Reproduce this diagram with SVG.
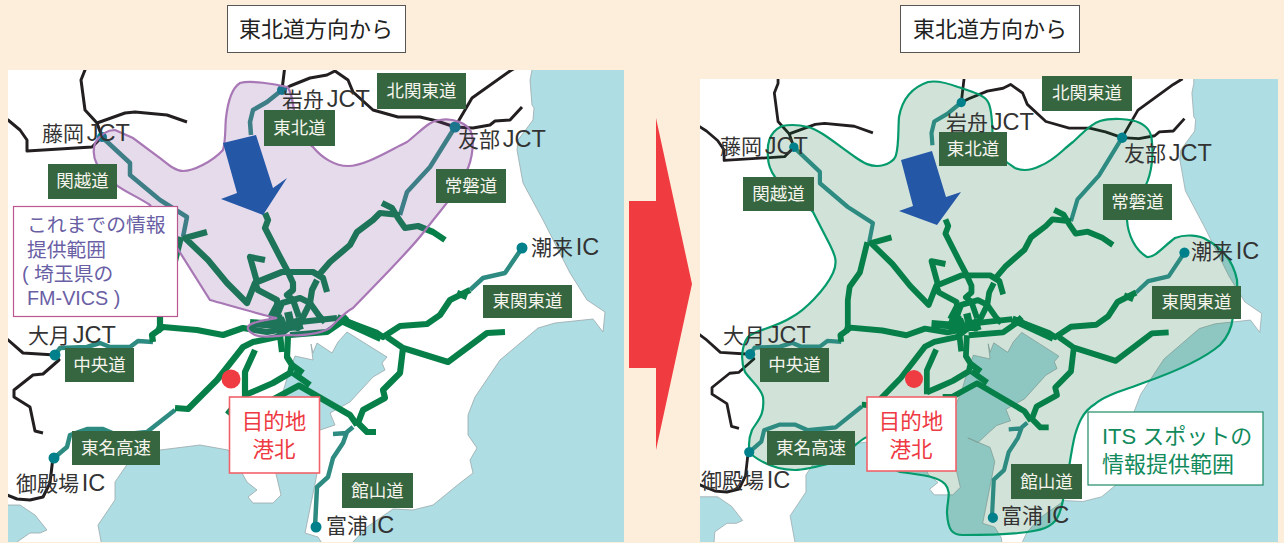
<svg xmlns="http://www.w3.org/2000/svg" width="1284" height="543" viewBox="0 0 1284 543">
<style>
text{font-family:"Liberation Sans","Noto Sans CJK JP",sans-serif}
.tag rect{fill:#366640}
.tag text{fill:#f4f4ec;font-size:17.500px;text-anchor:middle}
.pl{fill:#333;font-size:21px;word-spacing:-3px}
.pl tspan{font-size:23.500px}
.sea{fill:#aedde3;stroke:#9aa8ab;stroke-width:.8}
.blk,.grn,.tea{fill:none;stroke-linejoin:round;stroke-linecap:butt}
.blk{stroke:#231f20;stroke-width:3}
.grn{stroke:#067f48;stroke-width:6.200px}
.thick{stroke-width:8px}
.tea{stroke:#2d8b81;stroke-width:4.500px}
.dot{fill:#00808a}
.title rect{fill:#fff;stroke:#555;stroke-width:1}
.title text{font-size:22px;fill:#222;text-anchor:middle}
.goal rect{fill:#fff;stroke:#f0626a;stroke-width:1.600}
.goal text{font-size:21.500px;fill:#ee3a43;text-anchor:middle}
.pin{fill:#ef3b42}
.arrow{fill:#2557a7}
</style>
<defs>
<clipPath id="clipL"><rect x="8" y="70" width="616" height="472"/></clipPath>
<clipPath id="clipR"><rect x="700" y="79" width="578" height="463"/></clipPath>
<g id="base">
<rect x="0" y="55" width="640" height="530" fill="#fff"/>
<polygon class="sea" points="532,55 532,70 530,80 532,105 534,108 533,120 518,140 517,150 523,183 543,220 570,273 587,300 605,312 603,332 593,319 555,323 538,328 500,360 475,397 468,415 468,435 477,448 470,460 473,473 460,483 433,505 413,510 393,509 367,527 353,542 348,552 345,585 640,585 640,55"/>
<polygon class="sea" points="103,585 103,552 98,525 115,500 115,482 128,463 160,450 200,445 228,450 232,455 247,482 257,490 248,497 253,503 273,503 281,495 276,474 276,463 269,461 262,440 282,395 288,375 295,356 313,360 311,344 313,353 317,343 332,353 338,342 347,332 387,357 382,363 385,370 373,377 350,402 330,413 335,425 320,430 311,438 300,448 289,443 313,453 318,468 315,484 305,533 318,537 325,548 330,585"/>
<polygon class="sea" points="0,505 20,505 35,515 47,530 40,533 30,533 17,542 14,585 0,585"/>
</g>
<g id="blacks">
<path class="blk" d="M85,60V70L81,80 85,110 97,123 125,113 135,112 167,115 187,122"/>
<path class="blk" d="M0,115 8,120 20,130 27,140 27,151 92,147 102,137 97,123"/>
<path class="blk" d="M285,65 282,90M282,90 290,86 310,78 327,75 335,71 348,80 353,92 373,110 398,117 420,117 437,121 455,127 473,128 490,125 495,121 510,120 522,107"/>
<path class="blk" d="M455,127 472,98 510,71 520,65"/>
<path class="blk" d="M0,334 7,339 23,353 55,355 59,360 43,374 33,375 14,390 14,397 30,407 35,431 43,433"/>
<path class="blk" d="M53,457 50,483 43,497 30,500 17,499 7,495 0,492"/>
</g>
<g id="roads">
<path class="tea" d="M103,138 130,163 130,175 160,200 187,217 183,237"/>
<path class="tea" d="M282,90 267,102 253,110 250,122 251,135"/>
<path class="tea" d="M455,127 430,167 407,192 400,215"/>
<path class="tea" d="M522,248 505,273 483,278 470,290"/>
<path class="tea" d="M55,355 60,348 87,347 100,343 110,347 130,347 138,341 153,342"/>
<path class="tea" d="M54,458 67,447 70,435 87,429 103,429 117,435 147,432 175,410"/>
<path class="tea" d="M353,427 347,432 343,443 333,458 328,477 317,487 315,527M333,434 347,433"/>
<path class="grn" d="M175,408 188,409 217,380 243,347 253,342 277,337 290,327"/>
<path class="grn" d="M153,342 152,335 163,327 197,330 223,335 243,328 267,332 300,326"/>
<path class="grn" d="M181,237 173,269 162,284 160,298 160,326 158,332"/>
<path class="grn" d="M207,232 185,238 208,260 227,283 247,303 255,283 258,290 277,300 278,313 270,323"/>
<path class="grn" d="M265,213 268,220 265,228 280,257 287,270 293,283 293,290 287,295 293,300 299,317"/>
<path class="grn" d="M265,260 250,257 257,282 282,272 313,272 323,278 327,292M317,280 312,290 310,303 298,327"/>
<path class="grn" d="M317,277 330,262 350,245 357,232 373,220 380,213 400,215M382,203 392,208 398,218 405,228 418,226 433,232 445,240"/>
<path class="grn" d="M278,313 282,303 300,298 310,303 320,317 325,322M270,318 278,303"/>
<path class="grn thick" d="M250,323 300,327M270,322 283,318M288,312 292,330M280,318 285,330M296,318 300,330"/>
<path class="grn" d="M337,318 377,333 383,337 400,326 427,324 440,315 450,300 470,290M457,293 467,297"/>
<path class="grn thick" d="M337,318 381,338"/>
<path class="grn" d="M300,322 337,318"/>
<path class="grn" d="M387,337 403,348 448,362 487,333 505,332M403,348 400,373 383,390 385,398 363,410 358,423 367,432 376,432"/>
<path class="grn" d="M298,385 350,415 357,425M293,373 310,385"/>
<path class="grn" d="M288,335 287,357 292,365 290,373 273,383 257,390 245,395M303,373 292,365M300,385 272,400 262,400"/>
<path class="grn" d="M290,335 327,332 340,323 347,316M280,335 282,352"/>
<path class="grn" d="M255,350 245,372 245,397M227,410 232,414"/>
<circle class="dot" cx="102" cy="137" r="5"/><circle class="dot" cx="282" cy="90" r="5"/><circle class="dot" cx="455" cy="127" r="5.500"/><circle class="dot" cx="522" cy="248" r="5.500"/><circle class="dot" cx="55" cy="355" r="5.500"/><circle class="dot" cx="54" cy="458" r="5.500"/><circle class="dot" cx="316" cy="527" r="5.500"/>
</g>
</defs>

<rect width="1284" height="543" fill="#fdeedb"/>

<g id="map-left" clip-path="url(#clipL)">
<use href="#base"/><use href="#blacks"/>
<g id="connectors-left"><use href="#roads"/></g>
<path id="area-left" fill="#824b9b" fill-opacity=".2" stroke="#a877b5" stroke-width="2.200" d="M115,130 133,138 160,158C170,166 176,171 183,171C193,171 212,162 223,150C226,140 225,125 226,118C228,100 232,88 240,83C250,80 275,84 287,87C292,90 294,110 296,125C300,135 306,142 313,147C322,158 335,166 348,166C365,166 390,150 407,142C420,132 430,120 440,120C450,118 470,122 472,135C474,145 472,165 463,177C455,195 443,207 423,233C410,250 380,280 353,308C345,312 340,318 330,328C320,334 300,336 290,335C280,335 265,339 255,335C245,330 245,325 257,322C265,320 272,319 277,318C262,315 235,307 210,300L150,205C135,195 120,190 110,180C100,170 90,160 95,143C100,135 107,130 115,130Z"/>
<polygon class="arrow" points="223,143 256,135 273,188 287,178 263,215 221,199 237,193"/>
</g>

<g id="map-right" clip-path="url(#clipR)">
<g transform="matrix(.93 0 0 .95 699 17)"><use href="#base"/><use href="#blacks"/></g>
<path id="area-right" fill="#00642c" fill-opacity=".18" stroke="#059a6c" stroke-width="2.200" d="M768,157C767,145 768,133 782,126C792,124 800,125 808,127C820,130 835,143 855,157C865,164 870,166 877,166C887,166 895,160 896,155C899,145 898,130 899,117C902,100 910,88 928,82C938,80 950,84 958,87C970,91 985,95 988,102C993,110 992,130 993,143C997,155 1005,162 1015,168C1022,171 1030,171 1040,166C1055,160 1062,150 1073,142C1082,134 1090,124 1100,121C1110,118 1130,118 1140,123C1150,128 1152,135 1152,143C1154,160 1150,180 1143,190L1127,220C1128,235 1135,250 1147,257C1155,258 1165,245 1175,238C1185,234 1200,235 1207,240C1220,247 1233,260 1237,280C1238,295 1235,310 1233,317C1232,325 1230,335 1220,345C1205,358 1180,370 1143,383C1125,390 1105,395 1095,404C1082,412 1078,425 1075,435C1070,455 1068,480 1063,500C1060,515 1057,523 1045,528C1030,534 990,535 963,535C952,535 948,530 947,513C947,500 952,492 945,484C938,477 925,475 900,472C890,470 875,445 868,437C860,437 845,458 835,462C820,466 805,470 795,470C780,470 765,465 752,455C748,450 748,440 752,430C758,420 765,415 763,397C761,388 752,382 745,372C740,360 742,345 748,337C755,330 775,328 792,317C805,310 825,290 833,273C838,262 835,255 830,245L813,212 775,177C770,170 768,163 768,157Z"/>
<g transform="matrix(.93 0 0 .95 699 17)"><g id="connectors-right"><use href="#roads"/></g></g>
<polygon class="arrow" points="901,160 932,151 946,197 961,192 937,225 899,211 913,206"/>
</g>

<g id="arrow-main"><polygon points="629,201 656,201 656,118 692,284 656,450 656,368 629,368" fill="#f03b40"/></g>

<g id="title-left" class="title"><rect x="227.500" y="5.500" width="178" height="47"/><text x="316" y="37">東北道方向から</text></g>
<g id="title-right" class="title"><rect x="900.500" y="5.500" width="179" height="47"/><text x="990" y="37">東北道方向から</text></g>

<g id="tags-left" class="tag">
<g id="l-tohoku"><rect x="264" y="110" width="71" height="36"/><text x="299.500" y="134">東北道</text></g>
<g id="l-kitakanto"><rect x="377" y="73" width="89" height="36"/><text x="421.500" y="97">北関東道</text></g>
<g id="l-kanetsu"><rect x="48" y="164" width="69" height="35"/><text x="82.500" y="187">関越道</text></g>
<g id="l-joban"><rect x="436" y="169" width="70" height="34"/><text x="471" y="192">常磐道</text></g>
<g id="l-higashikanto"><rect x="483" y="285" width="89" height="33"/><text x="527.500" y="307">東関東道</text></g>
<g id="l-chuo"><rect x="65" y="348" width="69" height="34"/><text x="99.500" y="371">中央道</text></g>
<g id="l-tomei"><rect x="72" y="431" width="88" height="34"/><text x="116" y="454">東名高速</text></g>
<g id="l-tateyama"><rect x="342" y="473" width="71" height="35"/><text x="377.500" y="497">館山道</text></g>
</g>
<g id="tags-right" class="tag">
<g id="r-tohoku"><rect x="939" y="132" width="68" height="34"/><text x="973" y="155">東北道</text></g>
<g id="r-kitakanto"><rect x="1042" y="76" width="90" height="35"/><text x="1087" y="99">北関東道</text></g>
<g id="r-kanetsu"><rect x="743" y="177" width="71" height="34"/><text x="778.500" y="200">関越道</text></g>
<g id="r-joban"><rect x="1103" y="184" width="69" height="36"/><text x="1137.500" y="208">常磐道</text></g>
<g id="r-higashikanto"><rect x="1152" y="286" width="89" height="33"/><text x="1196.500" y="308">東関東道</text></g>
<g id="r-chuo"><rect x="760" y="348" width="69" height="34"/><text x="794.500" y="371">中央道</text></g>
<g id="r-tomei"><rect x="767" y="431" width="88" height="34"/><text x="811" y="454">東名高速</text></g>
<g id="r-tateyama"><rect x="1011" y="464" width="71" height="35"/><text x="1046.500" y="488">館山道</text></g>
</g>

<g id="places-left">
<text class="pl" x="42" y="141">藤岡 <tspan>JCT</tspan></text>
<text class="pl" x="282" y="107">岩舟 <tspan>JCT</tspan></text>
<text class="pl" x="458" y="147">友部 <tspan>JCT</tspan></text>
<text class="pl" x="531" y="255">潮来 <tspan>IC</tspan></text>
<text class="pl" x="28" y="343">大月 <tspan>JCT</tspan></text>
<text class="pl" x="16" y="491">御殿場 <tspan>IC</tspan></text>
<text class="pl" x="326" y="533">富浦 <tspan>IC</tspan></text>
</g>
<g id="places-right">
<text class="pl" x="720" y="154">藤岡 <tspan>JCT</tspan></text>
<text class="pl" x="946" y="130">岩舟 <tspan>JCT</tspan></text>
<text class="pl" x="1124" y="161">友部 <tspan>JCT</tspan></text>
<text class="pl" x="1191" y="259">潮来 <tspan>IC</tspan></text>
<text class="pl" x="723" y="343">大月 <tspan>JCT</tspan></text>
<text class="pl" x="701" y="488">御殿場 <tspan>IC</tspan></text>
<text class="pl" x="1001" y="523">富浦 <tspan>IC</tspan></text>
</g>

<g id="note-fmvics">
<rect x="13.500" y="206.500" width="164" height="110" fill="#fff" stroke="#b9578f" stroke-width="1.200"/>
<g fill="#6a5fa5" font-size="19.800">
<text x="27" y="232">これまでの情報</text>
<text x="27" y="257">提供範囲</text>
<text x="22" y="281">( 埼玉県の</text>
<text x="27" y="305">FM-VICS )</text>
</g>
</g>

<g id="goal-left" class="goal"><circle class="pin" cx="231" cy="379" r="9.500"/><rect x="229.500" y="397" width="90" height="76"/><text x="274" y="429">目的地</text><text x="274" y="457">港北</text></g>
<g id="goal-right" class="goal"><circle class="pin" cx="914" cy="379" r="9"/><rect x="867" y="397" width="89" height="74"/><text x="911" y="429">目的地</text><text x="911" y="457">港北</text></g>

<g id="note-its">
<rect x="1088" y="412" width="175" height="73" fill="#fff" stroke="#1e8a64" stroke-width="1.200"/>
<g fill="#118a5c" font-size="22">
<text x="1102" y="444">ITS スポットの</text>
<text x="1102" y="472">情報提供範囲</text>
</g>
</g>
</svg>
